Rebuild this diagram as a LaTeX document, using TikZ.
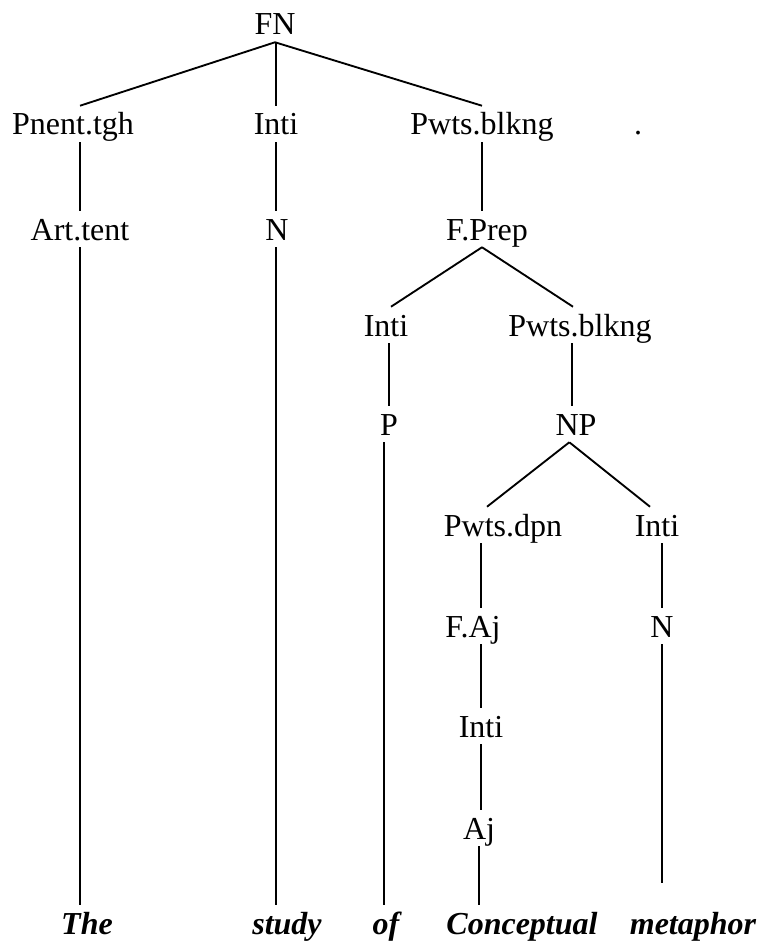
\documentclass[tikz,border=0pt]{standalone}
\usepackage{fontspec}
\setmainfont{Liberation Serif}
\begin{document}
\begin{tikzpicture}[x=0.75pt,y=-0.75pt,
  lbl/.style={anchor=base, inner xsep=0pt, inner ysep=5.25pt, text height=16.5pt, text depth=0pt, font=\fontsize{24}{28}\selectfont},
  word/.style={lbl, font=\fontsize{24}{28}\selectfont\bfseries\itshape},
  edge/.style={line width=1.4pt}]
\useasboundingbox (0,0) rectangle (760,945);
% row 0
\node[lbl] (FN) at (275,35) {FN};
% row 1
\node[lbl] (Pnent) at (73,135) {Pnent.tgh};
\node[lbl] (IntiA) at (276,135) {Inti};
\node[lbl] (PwtsA) at (482,135) {Pwts.blkng};
\node[lbl] (dot) at (638,135) {.};
% row 2
\node[lbl] (Art) at (80,240) {Art.tent};
\node[lbl] (NA) at (277,240) {N};
\node[lbl] (FPrep) at (487,240) {F.Prep};
% row 3
\node[lbl] (IntiB) at (386,336) {Inti};
\node[lbl] (PwtsB) at (580,336) {Pwts.blkng};
% row 4
\node[lbl] (P) at (389,435) {P};
\node[lbl] (NP) at (576,435) {NP};
% row 5
\node[lbl] (Pdpn) at (503,536) {Pwts.dpn};
\node[lbl] (IntiC) at (657,536) {Inti};
% row 6
\node[lbl] (FAj) at (473,637) {F.Aj};
\node[lbl] (NB) at (662,637) {N};
% row 7
\node[lbl] (IntiD) at (481,737) {Inti};
% row 8
\node[lbl] (Aj) at (479,839) {Aj};
% words
\node[word] (The) at (87,934) {The};
\node[word] (study) at (287,934) {study};
\node[word] (of) at (386,934) {of};
\node[word] (Conc) at (522,934) {Conceptual};
\node[word] (meta) at (693,934) {metaphor};
% connectors
\draw[edge] (FN.south) -- (Art.north |- Pnent.north);
\draw[edge] (IntiA.north |- FN.south) -- (IntiA.north);
\draw[edge] (FN.south) -- (PwtsA.north);
\draw[edge] (Art.north |- Pnent.south) -- (Art.north);
\draw[edge] (IntiA.south) -- (IntiA.south |- NA.north);
\draw[edge] (PwtsA.south) -- (PwtsA.south |- FPrep.north);
\draw[edge] (Art.south) -- (Art.south |- The.north);
\draw[edge] (IntiA.south |- NA.south) -- (IntiA.south |- study.north);
\draw[edge] ([xshift=-3.75pt]FPrep.south) -- ([xshift=3.75pt]IntiB.north);
\draw[edge] ([xshift=-3.75pt]FPrep.south) -- ([xshift=-5.25pt]PwtsB.north);
\draw[edge] (P.north |- IntiB.south) -- (P.north);
\draw[edge] ([xshift=-3pt]NP.north |- PwtsB.south) -- ([xshift=-3pt]NP.north);
\draw[edge] ([xshift=-4pt]P.south) -- ([xshift=-4pt]P.south |- of.north);
\draw[edge] ([xshift=-5pt]NP.south) -- ([xshift=-12pt]Pdpn.north);
\draw[edge] ([xshift=-5pt]NP.south) -- ([xshift=-5.25pt]IntiC.north);
\draw[edge] (IntiD.north |- Pdpn.south) -- (IntiD.north |- FAj.north);
\draw[edge] (NB.north |- IntiC.south) -- (NB.north);
\draw[edge, shorten >=16.5pt] (NB.south) -- (NB.south |- meta.north);
\draw[edge] (IntiD.north |- FAj.south) -- (IntiD.north);
\draw[edge] (IntiD.south) -- (IntiD.south |- Aj.north);
\draw[edge] (Aj.south) -- (Aj.south |- Conc.north);
\end{tikzpicture}
\end{document}
